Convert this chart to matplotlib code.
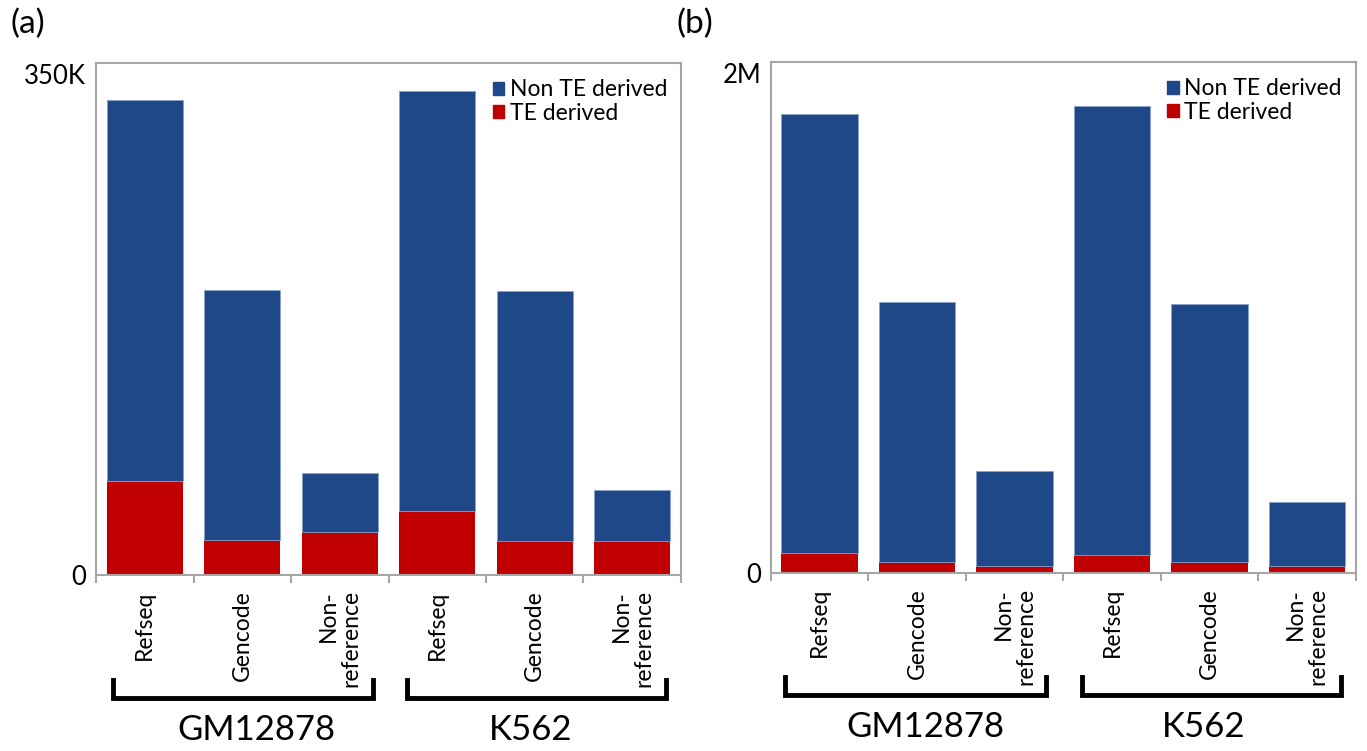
import numpy as np
import matplotlib
matplotlib.use("Agg")
import matplotlib.pyplot as plt
from matplotlib.patches import Patch
from matplotlib.transforms import ScaledTranslation

plt.rcParams['font.family'] = ['Lato', 'DejaVu Sans']

# data
categories = ['Refseq', 'Gencode', 'Non-\nreference', 'Refseq', 'Gencode', 'Non-\nreference']
groups = ['GM12878', 'K562']

# panel (a): totals and TE derived counts
total_a = [325000, 195000, 69500, 331000, 194000, 58000]
te_a = [64000, 24000, 29600, 44000, 23400, 23400]
# panel (b)
total_b = [1796000, 1059000, 400000, 1828000, 1054000, 278000]
te_b = [76000, 43000, 27000, 68000, 41000, 26000]

ymax_a, ylab_a = 350000, '350K'
ymax_b, ylab_b = 2000000, '2M'

blue = '#1F4888'
red = '#C00000'
frame = '#A6A6A6'

fig = plt.figure(figsize=(13.67, 7.51), dpi=100)
ax_a = fig.add_axes([0.07023, 0.23435, 0.42794, 0.68176])
ax_b = fig.add_axes([0.56382, 0.23742, 0.42794, 0.68003])


def draw(ax, total, te, ymax, ylab, brk, txt):
    x = np.arange(len(categories))
    te = np.array(te)
    non_te = np.array(total) - te
    ax.bar(x, te, width=0.78, color=red, zorder=2)
    ax.bar(x, non_te, bottom=te, width=0.78, color=blue,
           edgecolor='#8aa2c8', linewidth=0.6, zorder=2)
    ax.set_xlim(-0.5, len(categories) - 0.5)
    ax.set_ylim(0, ymax)
    for s in ax.spines.values():
        s.set_color(frame)
        s.set_linewidth(1.5)
    ax.set_xticks(x)
    ax.set_xticklabels(categories, rotation=90, fontsize=16.5, va='top',
                       ha='center', multialignment='right', linespacing=1.1)
    ax.set_xticks(np.arange(-0.5, len(categories)), minor=True)
    ax.tick_params(axis='x', which='major', length=0, pad=11)
    ax.tick_params(axis='x', which='minor', length=6, width=1.5, color=frame)
    ax.set_yticks([0, ymax])
    ax.set_yticklabels(['0', ylab], fontsize=18.5)
    ax.tick_params(axis='y', length=0, pad=7)
    top_lbl = ax.get_yticklabels()[1]
    top_lbl.set_transform(top_lbl.get_transform() +
                          ScaledTranslation(0, -8 / 72, fig.dpi_scale_trans))

    handles = [Patch(color=blue, label='Non TE derived'),
               Patch(color=red, label='TE derived')]
    ax.legend(handles=handles, loc='upper right', frameon=False, fontsize=16.5,
              handlelength=0.5, handleheight=0.5, handletextpad=0.25,
              labelspacing=0.1, borderaxespad=0.2,
              bbox_to_anchor=(1.0, 0.995))

    # group brackets
    tr = ax.get_xaxis_transform()
    for (x0, x1), (tx, name) in zip(brk, zip(txt, groups)):
        ax.plot([x0, x0, x1, x1], [-0.205, -0.240, -0.240, -0.205],
                transform=tr, color='black', lw=3.5, clip_on=False,
                solid_joinstyle='miter')
        ax.text(tx, -0.303, name, transform=tr, fontsize=25,
                ha='center', va='center')


draw(ax_a, total_a, te_a, ymax_a, ylab_a,
     [(-0.33, 2.34), (2.69, 5.35)], [1.14, 3.96])
draw(ax_b, total_b, te_b, ymax_b, ylab_b,
     [(-0.35, 2.32), (2.69, 5.35)], [1.09, 3.94])

fig.text(11 / 1367, 1 - 24 / 751, '(a)', fontsize=24, ha='left', va='center')
fig.text(676 / 1367, 1 - 24 / 751, '(b)', fontsize=24, ha='left', va='center')

fig.savefig('out.png', dpi=100)
